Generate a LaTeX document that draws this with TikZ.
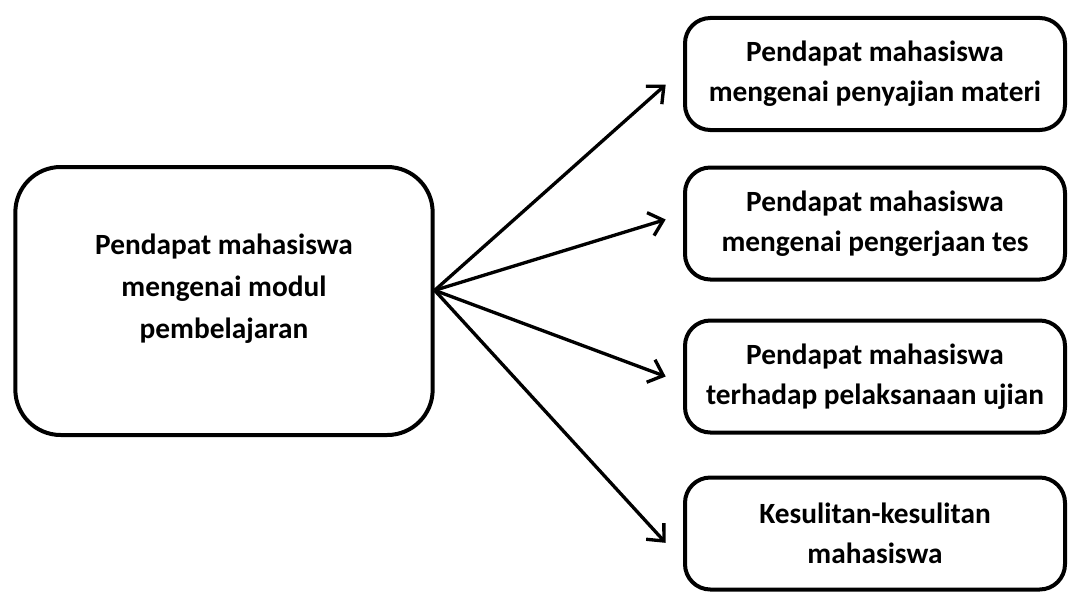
\documentclass[tikz,border=0pt]{standalone}
\usepackage{fontspec}
\setmainfont{Carlito}
\usetikzlibrary{arrows.meta}

\begin{document}
\begin{tikzpicture}[x=0.75pt, y=-0.75pt,
    topic/.style={draw, line width=3pt, rounded corners=34pt,
        minimum width=313pt, minimum height=201pt},
    aspect/.style={draw, line width=3pt, rounded corners=19pt,
        minimum width=285pt, minimum height=84pt, align=center,
        font=\bfseries\fontsize{22}{30}\selectfont},
    >={Straight Barb[length=10pt, width=18pt]}]
    \useasboundingbox (0,0) rectangle (1070,592);

    % Draw the main box
    \node[topic] (modul) at (224,301) {};
    \node[align=center, font=\bfseries\fontsize{22}{31.5}\selectfont] (modultext) at (224,289)
        {Pendapat mahasiswa\\mengenai modul\\pembelajaran};
    \coordinate (hub) at ([yshift=8pt]modul.east);

    % Draw the boxes on the right
    \node[aspect] (materi) at (875,74) {Pendapat mahasiswa\\mengenai penyajian materi};
    \node[aspect] (tes) at (875,223.5) {Pendapat mahasiswa\\mengenai pengerjaan tes};
    \node[aspect] (ujian) at (875,376.5) {Pendapat mahasiswa\\terhadap pelaksanaan ujian};
    \node[aspect] (sulit) at (875,533.5) {Kesulitan-kesulitan\\mahasiswa};

    % Draw the arrows
    \draw[->, line width=2.5pt] (hub) -- ([xshift=-13pt, yshift=-8pt]materi.west);
    \draw[->, line width=2.5pt] (hub) -- ([xshift=-13pt, yshift=3pt]tes.west);
    \draw[->, line width=2.5pt] (hub) -- ([xshift=-13pt]ujian.west);
    \draw[->, line width=2.5pt] (hub) -- ([xshift=-13pt, yshift=-7pt]sulit.west);

\end{tikzpicture}
\end{document}
